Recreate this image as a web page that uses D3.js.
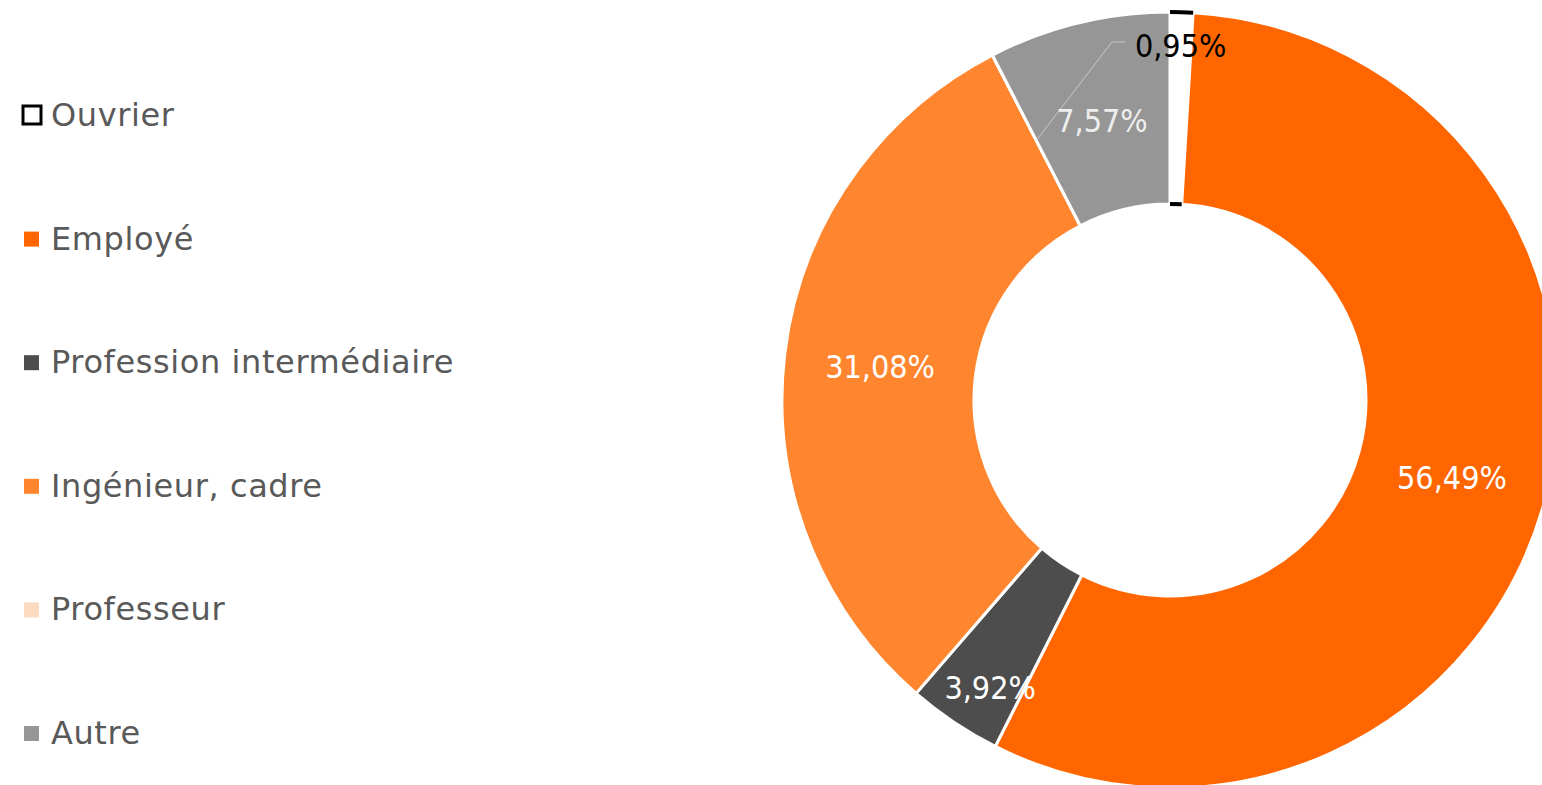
<!DOCTYPE html>
<html>
<head>
<meta charset="utf-8">
<script src="https://cdn.jsdelivr.net/npm/d3@7"></script>
<style>
  body { margin: 0; background: #fff; }
  svg text { font-family: "DejaVu Sans", sans-serif; }
</style>
</head>
<body>
<div id="chart"></div>
<script>
'use strict';

// data
var categories = ['Ouvrier', 'Employé', 'Profession intermédiaire', 'Ingénieur, cadre', 'Professeur', 'Autre'];
var values = [0.95, 56.49, 3.92, 31.08, 0, 7.57];
var labels = ['0,95%', '56,49%', '3,92%', '31,08%', '', '7,57%'];
var colors = ['#ffffff', '#ff6600', '#4d4d4d', '#ff862f', '#fddbc0', '#969696'];
var labelColors = ['#000000', '#ffffff', '#ffffff', '#ffffff', '#ffffff', '#eeeeee'];

var width = 1542, height = 785;
var cx = 1170, cy = 400, outerR = 388, innerR = 196;

var svg = d3.select('#chart').append('svg')
  .attr('width', width)
  .attr('height', height);

var pie = d3.pie().sort(null).value(function(d) { return d; });
var arcs = pie(values);

var arc = d3.arc().innerRadius(innerR).outerRadius(outerR);
var g = svg.append('g').attr('transform', 'translate(' + cx + ',' + cy + ')');

g.selectAll('path.slice')
  .data(arcs)
  .enter()
  .append('path')
    .attr('class', 'slice')
    .attr('d', arc)
    .attr('fill', function(d, i) { return colors[i]; })
    .attr('stroke', function(d, i) { return i === 0 ? '#555' : '#fff'; })
    .attr('stroke-width', function(d, i) { return i === 0 ? 1 : 3; });

// black caps of the Ouvrier slice
var ouv = arcs[0];
[outerR, innerR].forEach(function(r) {
  g.append('path')
    .attr('d', d3.arc().innerRadius(r).outerRadius(r)
      .startAngle(ouv.startAngle).endAngle(ouv.endAngle)())
    .attr('fill', 'none')
    .attr('stroke', '#000')
    .attr('stroke-width', 4);
});

// leader line for the empty Professeur slice
var prof = arcs[4];
var pc = arc.centroid(prof);
g.append('polyline')
  .attr('points', [pc, [-58, -358], [-45, -358]].map(function(p) { return p.join(','); }).join(' '))
  .attr('fill', 'none')
  .attr('stroke', '#c8c8c8')
  .attr('stroke-width', 1);

// data labels
var labelR = [356, 292, 338, 292, 292, 289];
var labelShift = [0, 0, 0.029, 0, 0, 0];
g.selectAll('text.lbl')
  .data(arcs)
  .enter()
  .append('text')
    .attr('class', 'lbl')
    .attr('transform', function(d, i) {
      var a = (d.startAngle + d.endAngle) / 2 - labelShift[i];
      return 'translate(' + (labelR[i] * Math.sin(a)) + ',' + (-labelR[i] * Math.cos(a) + 2) + ')';
    })
    .attr('text-anchor', 'middle')
    .attr('dominant-baseline', 'central')
    .style('font-family', '"DejaVu Sans Condensed", "DejaVu Sans", sans-serif')
    .attr('font-size', 32)
    .attr('fill', function(d, i) { return labelColors[i]; })
    .text(function(d, i) { return labels[i]; });

// legend
var legend = svg.append('g');
var ly = d3.scalePoint().domain(categories).range([115, 733]);

var items = legend.selectAll('g.item')
  .data(categories)
  .enter()
  .append('g')
    .attr('class', 'item')
    .attr('transform', function(d) { return 'translate(0,' + ly(d) + ')'; });

items.append('rect')
  .attr('x', function(d, i) { return i === 0 ? 23 : 24; })
  .attr('y', function(d, i) { return i === 0 ? -9 : -7; })
  .attr('width', function(d, i) { return i === 0 ? 18 : 15; })
  .attr('height', function(d, i) { return i === 0 ? 18 : 15; })
  .attr('fill', function(d, i) { return colors[i]; })
  .attr('stroke', function(d, i) { return i === 0 ? '#000' : 'none'; })
  .attr('stroke-width', 3);

items.append('text')
  .attr('x', 51)
  .attr('dominant-baseline', 'central')
  .attr('font-size', 32)
  .attr('letter-spacing', 0.6)
  .attr('fill', '#595959')
  .text(function(d) { return d; });
</script>
</body>
</html>
